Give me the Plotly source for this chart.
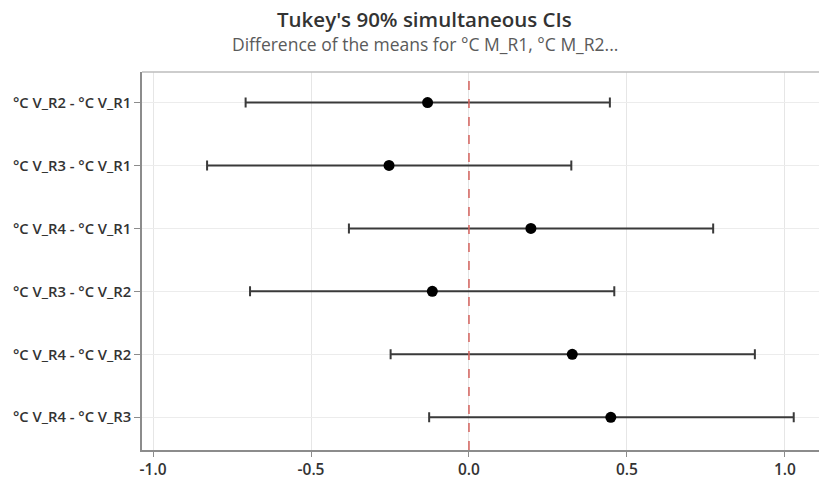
import plotly.graph_objects as go

labels = ["°C V_R2 - °C V_R1", "°C V_R3 - °C V_R1", "°C V_R4 - °C V_R1",
          "°C V_R3 - °C V_R2", "°C V_R4 - °C V_R2", "°C V_R4 - °C V_R3"]
centers = [-0.131, -0.253, 0.196, -0.116, 0.327, 0.449]
lowers = [-0.707, -0.829, -0.380, -0.693, -0.248, -0.126]
uppers = [0.446, 0.324, 0.773, 0.460, 0.905, 1.028]
x_ticks = [-1.0, -0.5, 0.0, 0.5, 1.0]
x_tick_text = ["-1.0", "-0.5", "0.0", "0.5", "1.0"]

plus = [u - c for u, c in zip(uppers, centers)]
minus = [c - l for c, l in zip(centers, lowers)]

fig = go.Figure()
fig.add_trace(go.Scatter(
    x=centers, y=labels, mode="markers",
    marker=dict(color="black", size=11, symbol="circle"),
    error_x=dict(type="data", symmetric=False, array=plus, arrayminus=minus,
                 color="#3a3a3a", thickness=2, width=5),
    showlegend=False,
))

fig.add_shape(type="line", x0=0, x1=0, y0=0, y1=1, xref="x", yref="paper",
              line=dict(color="#d4625c", width=1.5, dash="dash"), layer="above")

fig.add_shape(type="line", x0=0, x1=1, y0=1, y1=1, xref="paper", yref="paper",
              line=dict(color="#bdbdbd", width=1.5))

fig.update_layout(
    width=819, height=480,
    margin=dict(l=142, r=0, t=72, b=28),
    paper_bgcolor="white", plot_bgcolor="white",
    font=dict(family="Open Sans", color="#333333"),
    annotations=[
        dict(text="Tukey's 90% simultaneous CIs", xref="paper", yref="paper",
             x=0.418, y=1.141, xanchor="center", yanchor="middle",
             showarrow=False, font=dict(size=20.5, color="#333333", weight=600, family="Open Sans")),
        dict(text="Difference of the means for °C M_R1, °C M_R2...", xref="paper", yref="paper",
             x=0.418, y=1.074, xanchor="center", yanchor="middle",
             showarrow=False, font=dict(size=17.5, color="#5a5a5a", family="Open Sans")),
    ],
    xaxis=dict(range=[-1.035, 1.108], tickvals=x_ticks, ticktext=x_tick_text,
               showgrid=True, gridcolor="#e6e6e6", gridwidth=1, zeroline=False,
               showline=True, linecolor="#8c8c8c", linewidth=1.5,
               ticks="outside", ticklen=5, tickcolor="#8c8c8c",
               tickfont=dict(size=15.5, color="#333333", weight=600)),
    yaxis=dict(categoryorder="array", categoryarray=labels, range=[5.52, -0.485],
               showgrid=True, gridcolor="#ececec", gridwidth=1, zeroline=False,
               showline=True, linecolor="#8c8c8c", linewidth=1.5,
               ticks="outside", ticklen=6, tickcolor="#8c8c8c",
               tickfont=dict(size=14.8, color="#333333", weight=600)),
)

fig.write_html("out.html")
